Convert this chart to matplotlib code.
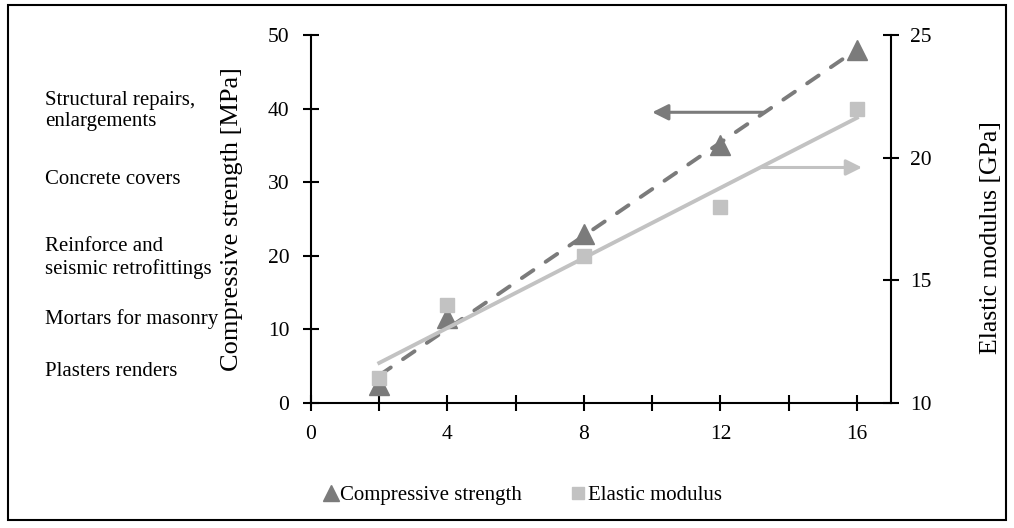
import numpy as np
import matplotlib
matplotlib.use("Agg")
import matplotlib.pyplot as plt
from matplotlib.patches import Rectangle
from matplotlib.lines import Line2D

plt.rcParams['font.family'] = ['Liberation Serif', 'DejaVu Serif']

# ---- data ----
x_values = [2, 4, 8, 12, 16]
compressive_strength = [2.5, 11.5, 23, 35, 48]   # MPa
elastic_modulus = [11, 14, 16, 18, 22]           # GPa
x_ticks = [0, 2, 4, 6, 8, 10, 12, 14, 16]
x_tick_labels = ['0', '', '4', '', '8', '', '12', '', '16']
left_ticks = [0, 10, 20, 30, 40, 50]
right_ticks = [10, 15, 20, 25]
applications = ["Structural repairs,\nenlargements", "Concrete covers",
                "Reinforce and\nseismic retrofittings", "Mortars for masonry",
                "Plasters renders"]
legend_labels = ["Compressive strength", "Elastic modulus"]

# ---- style / layout ----
dark = '#7b7b7b'
light = '#c2c2c2'
app_y_px = [111, 180, 258, 319, 371]

fig = plt.figure(figsize=(10.14, 5.28), dpi=100)
ax = fig.add_axes([311/1014, 1-403/528, 580/1014, 368/528])
ax2 = ax.twinx()

ax.set_xlim(0, 17)
ax.set_ylim(0, 50)
ax2.set_ylim(10, 25)

# trend lines (least squares fits)
xs = np.array(x_values, dtype=float)
pc = np.polyfit(xs, compressive_strength, 1)
pe = np.polyfit(xs, elastic_modulus, 1)
xl = np.array([xs.min(), xs.max()])
ax.plot(xl, np.polyval(pc, xl), color=dark, lw=2.8, dashes=(3.6, 3.8),
        dash_capstyle='round', zorder=2)
ax2.plot(xl, np.polyval(pe, xl), color=light, lw=2.8, zorder=2)

ax.plot(x_values, compressive_strength, linestyle='none', marker='^',
        ms=14, color=dark, zorder=3)
ax2.plot(x_values, elastic_modulus, linestyle='none', marker='s',
         ms=9.5, color=light, zorder=3)

# arrows
ax.annotate('', xy=(10.0, 39.5), xytext=(13.3, 39.5),
            arrowprops=dict(arrowstyle='-|>', color=dark, lw=2.2,
                            mutation_scale=24, shrinkA=0, shrinkB=0))
ax.annotate('', xy=(16.15, 32.0), xytext=(13.2, 32.0),
            arrowprops=dict(arrowstyle='-|>', color=light, lw=2.2,
                            mutation_scale=24, shrinkA=0, shrinkB=0))

# axes styling
for a in (ax, ax2):
    a.spines['top'].set_visible(False)
    for s in ('left', 'right', 'bottom'):
        a.spines[s].set_linewidth(1.5)
ax.spines['right'].set_visible(False)
ax2.spines['left'].set_visible(False)
ax2.spines['bottom'].set_visible(False)

ax.set_xticks(x_ticks)
ax.set_xticklabels(x_tick_labels)
ax.set_yticks(left_ticks)
ax2.set_yticks(right_ticks)
ax.tick_params(axis='x', direction='inout', length=11, width=1.5,
               labelsize=15.5, pad=10)
ax.tick_params(axis='y', direction='inout', length=11, width=1.5,
               labelsize=15.5, pad=10)
ax2.tick_params(axis='y', direction='inout', length=11, width=1.5,
                labelsize=15.5, pad=8)

ax.set_ylabel("Compressive strength [MPa]", fontsize=19)
ax.yaxis.set_label_coords(-0.117, 0.5)
ax2.set_ylabel("Elastic modulus [GPa]", fontsize=18.5)
ax2.yaxis.set_label_coords(1.153, 0.45)

for txt, ypx in zip(applications, app_y_px):
    fig.text(45/1014, 1-ypx/528, txt, ha='left', va='center', fontsize=15,
             linespacing=1.2)

handles = [Line2D([], [], linestyle='none', marker='^', ms=11, color=dark),
           Line2D([], [], linestyle='none', marker='s', ms=9, color=light)]
fig.legend(handles, legend_labels, loc='center', bbox_to_anchor=(523/1014, 1-495/528),
           ncol=2, frameon=False, fontsize=15, handlelength=0.6,
           handletextpad=0.15, columnspacing=2.4)

fig.patches.append(Rectangle((8/1014, 1-520/528), 998/1014, 515/528,
                             transform=fig.transFigure, fill=False,
                             lw=1.5, ec='black'))

fig.savefig('out.png', dpi=100)
